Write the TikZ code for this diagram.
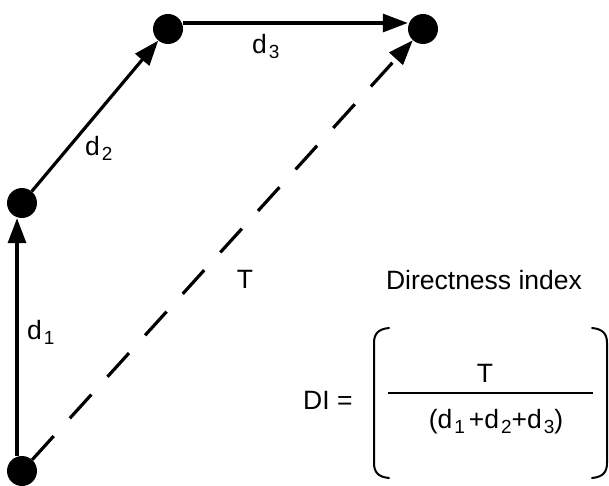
\documentclass[tikz,border=0pt]{standalone}
\usepackage{fontspec}
\setmainfont{Liberation Sans}
\usetikzlibrary{arrows.meta}
\newcommand\mysub[1]{\kern2pt\raisebox{-5pt}{\fontsize{19}{19}\selectfont #1}}
\begin{document}
\begin{tikzpicture}[x=1pt,y=-1pt,
  dot/.style={circle,fill=black,minimum size=30pt,inner sep=0pt},
  conn/.style={line width=3.2pt,-{Triangle[length=25pt,width=18pt]}},
  lbl/.style={font=\fontsize{26.5}{30}\selectfont,anchor=base west,inner sep=0pt},
  brk/.style={line width=2pt,line cap=round}]
\useasboundingbox (0,0) rectangle (609,486);
% points
\node[dot] (A) at (22,471) {};
\node[dot] (B) at (22,203) {};
\node[dot] (C) at (168,29) {};
\node[dot] (D) at (423,29) {};
% connectors
\draw[conn] ([xshift=-5pt]A.north) -- ([xshift=-5pt]B.south);
\draw[conn] (B) -- (C);
\draw[conn] ([yshift=6pt]C.east) -- ([yshift=6pt]D.west);
\draw[conn,dash pattern=on 32pt off 24pt] (A) -- (D);
% labels
\node[lbl] (l1) at (27,339) {d\mysub{1}};
\node[lbl] (l2) at (85,156) {d\mysub{2}};
\node[lbl] (l3) at (252,54) {d\mysub{3}};
\node[lbl,anchor=base] (lT) at (245,288) {T};
\node[lbl,anchor=base] (title) at (484,289) {Directness index};
\node[lbl] (DI) at (303,409) {DI =};
% fraction
\node[lbl,anchor=base] (fT) at (485,382) {T};
\coordinate (fl) at (388,393);
\coordinate (fr) at (593,393);
\draw[line width=2pt] (fl) -- (fr);
\node[lbl,anchor=base] (den) at (496,428) {(d\mysub{1}\kern4pt+d\mysub{2}+d\mysub{3})};
% brackets
\draw[brk] (389,328) .. controls (378,329) and (374,334) .. (374,343) -- (374,463) .. controls (374,472) and (378,477) .. (389,478);
\draw[brk] (592,328) .. controls (603,329) and (607,334) .. (607,343) -- (607,463) .. controls (607,472) and (603,477) .. (592,478);
\end{tikzpicture}
\end{document}
